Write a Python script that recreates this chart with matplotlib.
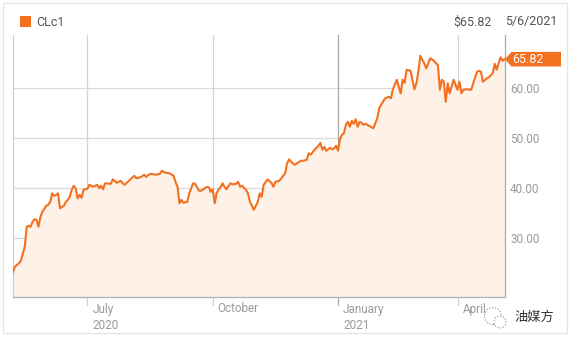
import matplotlib
matplotlib.use('Agg')
import matplotlib.pyplot as plt
import matplotlib.transforms as mtransforms
from matplotlib.patches import Rectangle, Polygon, Circle
import pandas as pd

plt.rcParams['font.family'] = ['Roboto', 'Noto Sans CJK SC', 'DejaVu Sans']

# ---------------- data ----------------
symbol = "CLc1"
last_price = 65.82
last_date = "5/6/2021"
price_label = "$65.82"
watermark = "油媒方"

# trading calendar (NYMEX holidays in the window)
start_date = "2020-05-07"
end_date = "2021-05-06"
holidays = ["2020-05-25", "2020-07-03", "2020-09-07", "2020-11-26", "2020-12-25",
            "2021-01-01", "2021-01-18", "2021-02-15", "2021-04-02"]

# trading-day number since start_date, and price
days = [0, 1, 2, 3, 4, 6, 7, 8, 9, 10, 11, 12, 13, 14, 15, 17, 18, 19, 20, 21, 22, 23, 24,
        26, 27, 28, 29, 30, 31, 32, 33, 34, 35, 36,
        38, 39, 41, 43, 44, 45, 46, 47, 50, 51, 53, 55, 56, 57, 60, 62, 63, 65, 67, 68, 70, 72,
        73, 75, 76, 78, 80, 82, 83, 84, 85, 86, 87, 89, 90, 92, 93, 95, 96, 98, 99, 100, 101,
        102, 103, 104, 105, 106, 107,
        108, 109, 111, 112, 114, 115, 116, 117, 119, 120, 121, 123, 125, 126, 127, 128, 130,
        132, 133, 134, 136, 137, 139, 140, 141, 142, 144,
        145, 147, 148, 150, 151, 152, 154, 156, 157, 158, 159, 160, 162, 163, 164, 165, 166,
        167, 168, 169, 170, 171, 172, 173, 174, 175, 176, 177, 178, 179, 180, 181, 184, 186,
        187, 188, 190, 192, 193, 194, 196, 197, 198, 199, 200, 201, 203, 204, 205, 206, 207,
        208, 210, 211, 212, 213, 215, 216, 217, 218, 219, 220, 221, 222, 223, 225, 226, 227,
        228, 229, 230, 232, 234, 235, 237, 238, 239, 240, 242, 243, 245, 246, 247, 248, 249,
        250, 251]
prices = [23.3, 24.3, 24.7, 25.0, 25.5, 28.3, 32.3, 32.5, 32.3, 33.3, 33.8, 33.7, 32.3, 34.3,
          35.3, 36.5, 36.7, 37.3, 39.0, 38.5, 38.7, 39.0, 36.0,
          36.5, 37.3, 37.7, 38.3, 39.7, 40.5, 40.0, 38.0, 38.7, 38.1, 39.7,
          39.9, 40.7, 40.3, 40.7, 40.0, 40.5, 39.8, 41.0, 40.9, 41.8, 41.1, 41.5, 41.0, 40.7,
          41.8, 42.5, 42.0, 42.2, 42.7, 42.3, 42.9, 42.8,
          42.7, 42.9, 43.5, 43.1, 43.0, 42.5, 41.3, 40.3, 37.0, 37.7, 37.1, 37.3, 39.0, 41.0,
          40.9, 39.5, 39.5, 40.0, 40.3, 40.2, 39.3,
          39.8, 37.0, 39.0, 39.8, 40.2, 41.0,
          40.3, 39.8, 41.0, 40.8, 40.9, 41.3, 40.3, 40.5, 39.7, 39.0, 37.3, 35.7, 37.3, 39.0,
          38.3, 40.7, 41.8,
          41.1, 40.3, 41.3, 41.5, 42.0, 43.0, 45.0, 45.8, 45.3, 44.7,
          45.0, 45.5, 45.5, 45.7, 47.0, 46.7, 47.7, 48.5, 49.1, 47.7, 48.3, 47.5, 48.1, 47.8,
          48.0, 48.5, 47.5,
          49.8, 50.7, 51.0, 52.7, 53.3, 52.3, 53.5, 52.9, 53.8, 52.3, 53.3, 53.1, 52.7, 52.9,
          52.7, 52.0, 54.0,
          56.0, 56.7, 58.0, 58.3, 58.0, 59.8, 61.7, 60.3, 59.0, 61.7, 61.1, 63.7, 63.5, 61.7,
          59.8, 61.0, 63.3,
          66.5, 65.0, 64.0, 64.9, 66.0, 65.5, 65.0, 64.7, 59.7, 61.7, 61.3, 57.3, 61.0, 59.0,
          61.7, 60.7, 59.7,
          61.3, 59.0, 59.7, 59.8, 59.7, 61.0, 63.3, 63.5, 63.3, 61.3, 62.0, 62.2, 63.0, 64.9,
          63.7, 65.0, 66.2,
          65.5, 65.82]

yticks = [30, 40, 50, 60]
month_ticks = ["2020-07-01", "2020-10-01", "2021-01-04", "2021-04-01"]
month_labels = ["July\n2020", "October", "January\n2021", "April"]
year_start_tick = "2021-01-04"

assert len(days) == len(prices)

# ---------------- layout ----------------
W, H = 574, 340
fig = plt.figure(figsize=(W / 100, H / 100), dpi=100)
fig.patch.set_facecolor('white')

def fx(px):
    return px / W

def fy(py):
    return 1 - py / H

L, R, T, B = 13, 504.5, 34.5, 296.5
ax = fig.add_axes([fx(L), fy(B), (R - L) / W, (B - T) / H])

cal = pd.bdate_range(start_date, end_date, freq='C', holidays=holidays)
tick_idx = [cal.get_loc(pd.Timestamp(d)) for d in month_ticks]
year_idx = cal.get_loc(pd.Timestamp(year_start_tick))

ylo = 60 - (B - 88.3) / 5
yhi = 60 + (88.3 - T) / 5
ax.set_xlim(0, len(cal) - 1)
ax.set_ylim(ylo, yhi)

orange = '#f37021'
ax.fill_between(days, prices, ylo, color='#fdf1e8', lw=0, zorder=2)
ax.plot(days, prices, color=orange, lw=1.5, solid_joinstyle='round', zorder=3)

for y in yticks:
    ax.axhline(y, color='#dadada', lw=0.9, zorder=1)
for idx in tick_idx:
    c = '#a8a8a8' if idx == year_idx else '#d3d3d3'
    ax.axvline(idx, color=c, lw=0.9, zorder=1)
    ax.plot([idx, idx], [ylo, ylo - 8 / 5], color=c, lw=0.9, clip_on=False, zorder=1)

for s in ['top']:
    ax.spines[s].set_visible(False)
ax.spines['left'].set_color('#d0d0d0')
ax.spines['bottom'].set_color('#b0b0b0')
ax.spines['right'].set_color('#a8a8a8')
for s in ['left', 'bottom', 'right']:
    ax.spines[s].set_linewidth(0.9)

ax.yaxis.tick_right()
ax.set_yticks(yticks)
ax.set_yticklabels([f"{v:.2f}" for v in yticks])
ax.tick_params(axis='y', length=0, pad=4, labelsize=8.5, labelcolor='#9a9a9a')
ax.set_xticks([])

btrans = mtransforms.blended_transform_factory(ax.transData, ax.transAxes)
px_per_day = (R - L) / (len(cal) - 1)
for idx, lab in zip(tick_idx, month_labels):
    ax.text(idx + 5.0 / px_per_day, -6.0 / (B - T), lab, transform=btrans,
            ha='left', va='top', fontsize=8.5, color='#9a9a9a', linespacing=1.35)

# price tag
ptrans = mtransforms.blended_transform_factory(ax.transAxes, ax.transData)
def axfx(px):
    return (px - L) / (R - L)
hh = 7.3 / 5
tag = Polygon([(axfx(505), last_price), (axfx(511.5), last_price + hh),
               (axfx(561), last_price + hh), (axfx(561), last_price - hh),
               (axfx(511.5), last_price - hh)], closed=True, transform=ptrans,
              facecolor=orange, edgecolor='none', clip_on=False, zorder=5)
ax.add_patch(tag)
ax.text(axfx(512.5), last_price, f"{last_price:.2f}", transform=ptrans, ha='left',
        va='center', fontsize=9, color='white', zorder=6, clip_on=False)

# header
fig.add_artist(Rectangle((fx(20), fy(27)), 11 / W, 11 / H, transform=fig.transFigure,
                         facecolor=orange, edgecolor='none'))
fig.text(fx(36.5), fy(22), symbol, ha='left', va='center', fontsize=9, color='#555555')
fig.text(fx(453), fy(22), price_label, ha='left', va='center', fontsize=9, color='#555555')
fig.text(fx(505.5), fy(22), last_date, ha='left', va='center', fontsize=9, color='#555555')

# outer frame
fig.add_artist(Rectangle((fx(3), fy(333)), 564 / W, 330 / H, transform=fig.transFigure,
                         fill=False, edgecolor='#e6e6e6', lw=1))

# watermark
ident = mtransforms.IdentityTransform()
fig.add_artist(Circle((493, H - 316), 8.5, transform=ident, facecolor='white',
                      edgecolor='#9a9a9a', lw=0.7, ls=(0, (1.5, 1.5)), zorder=7))
fig.add_artist(Circle((500, H - 322), 6.0, transform=ident, facecolor='white',
                      edgecolor='#9a9a9a', lw=0.7, ls=(0, (1.5, 1.5)), zorder=8))
fig.text(fx(514), fy(317), watermark, ha='left', va='center', fontsize=9.5,
         color='#333333', family=['Noto Sans CJK SC', 'DejaVu Sans'], zorder=9)

fig.savefig('out.png', dpi=100)
